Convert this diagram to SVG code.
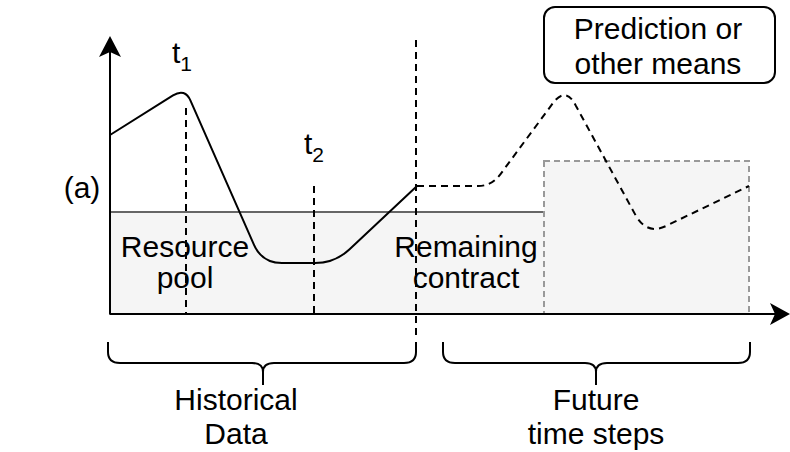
<svg xmlns="http://www.w3.org/2000/svg" width="790" height="452" viewBox="0 0 790 452">
<style>
text{font-family:"Liberation Sans",Arial,Helvetica,sans-serif;font-size:30px;fill:#000;text-anchor:middle}
text.st{text-anchor:start}
.ln{fill:none;stroke:#000;stroke-width:2}
.dash{fill:none;stroke:#000;stroke-width:2;stroke-dasharray:7 5}
.sub{font-size:21px}
</style>
<rect width="790" height="452" fill="#fff"/>
<g id="resource-pool">
<rect x="110" y="212" width="435" height="102" fill="#f5f5f5" stroke="#666" stroke-width="2"/>
<text x="185" y="257">Resource</text>
<text x="185" y="288">pool</text>
</g>
<g id="future-box">
<rect x="544" y="161" width="205" height="153" fill="#f5f5f5" stroke="#999" stroke-width="2" stroke-dasharray="6 4"/>
</g>
<g id="remaining-contract">
<text x="466" y="257">Remaining</text>
<text x="466" y="288">contract</text>
</g>
<g id="markers">
<path class="dash" d="M186,108 V314"/>
<path class="dash" d="M314,186 V314"/>
<path class="dash" d="M416,40 V337"/>
</g>
<g id="series">
<path class="ln" d="M110,135 L173,95.4 Q185,88 190.6,100.8 L253.9,244.7 Q262,263 282,263 L315,263 Q335,263 349.6,249.3 L417,186"/>
<path class="dash" d="M417,186 L478,186 C492,186 498,178 505,168 L553,103 Q566,86 576,106 L636,216 Q648,236 668,225 L749,186"/>
</g>
<g id="axes">
<path class="ln" d="M110,314 V52"/>
<path d="M110,36 L121,57 L110,52 L99,57 Z" fill="#000"/>
<path class="ln" d="M110,314 H776"/>
<path d="M790,314 L770,325 L775,314 L770,303 Z" fill="#000"/>
</g>
<g id="labels">
<text x="82" y="198">(a)</text>
<text class="st" x="172" y="63">t<tspan class="sub" dy="8">1</tspan></text>
<text class="st" x="304" y="154">t<tspan class="sub" dy="8">2</tspan></text>
</g>
<g id="prediction">
<rect x="544" y="7" width="231" height="76" rx="11" fill="#fff" stroke="#000" stroke-width="2"/>
<text x="658" y="39">Prediction or</text>
<text x="658" y="74">other means</text>
</g>
<g id="historical">
<path class="ln" d="M108,342 L108,352 Q108,363 120,363 L252,363 Q263,363 263,372 L263,385 M263,372 Q263,363 274,363 L404,363 Q416,363 416,352 L416,342"/>
<text x="236" y="410">Historical</text>
<text x="236" y="444">Data</text>
</g>
<g id="future">
<path class="ln" d="M443,342 L443,352 Q443,363 455,363 L585,363 Q596,363 596,372 L596,385 M596,372 Q596,363 607,363 L738,363 Q750,363 750,352 L750,342"/>
<text x="596" y="410">Future</text>
<text x="596" y="444">time steps</text>
</g>
</svg>
